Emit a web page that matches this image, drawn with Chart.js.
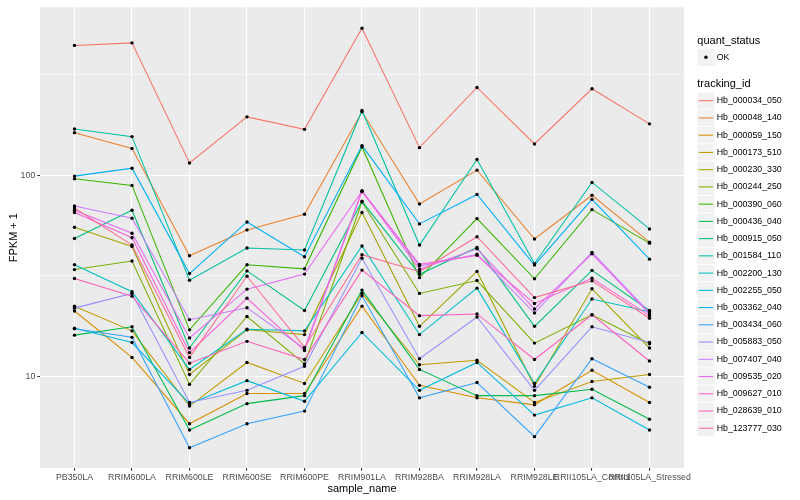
<!DOCTYPE html>
<html><head><meta charset="utf-8">
<script src="https://cdn.jsdelivr.net/npm/chart.js@4/dist/chart.umd.min.js"></script>
<style>html,body{margin:0;padding:0;background:#fff}</style>
</head><body>
<canvas id="c" width="800" height="500" style="width:800px;height:500px;display:block"></canvas>
<script>
const categories = ['PB350LA','RRIM600LA','RRIM600LE','RRIM600SE','RRIM600PE','RRIM901LA','RRIM928BA','RRIM928LA','RRIM928LE','RRII105LA_Control','RRII105LA_Stressed'];
const trackingIds = ['Hb_000034_050','Hb_000048_140','Hb_000059_150','Hb_000173_510','Hb_000230_330','Hb_000244_250','Hb_000390_060','Hb_000436_040','Hb_000915_050','Hb_001584_110','Hb_002200_130','Hb_002255_050','Hb_003362_040','Hb_003434_060','Hb_005883_050','Hb_007407_040','Hb_009535_020','Hb_009627_010','Hb_028639_010','Hb_123777_030'];
const seriesColors = ['#F8766D','#EA8331','#D89000','#C09B00','#A3A500','#7CAE00','#39B600','#00BB4E','#00BF7D','#00C1A3','#00BFC4','#00BAE0','#00B0F6','#35A2FF','#9590FF','#C77CFF','#E76BF3','#FA62DB','#FF62BC','#FF6C91'];

const s000034_050 = [442, 455, 115, 195, 169, 538, 137, 273, 143, 269, 180];
const s000048_140 = [162.7, 135.6, 39.7, 53.4, 63.9, 206.7, 71.8, 105.9, 48.1, 79.4, 46.4];
const s000059_150 = [21.1, 12.4, 5.8, 8.2, 8.2, 22.3, 9.0, 7.8, 7.2, 10.7, 7.4];
const s000173_510 = [22.3, 16.8, 7.1, 11.7, 9.2, 25.8, 11.4, 12.0, 7.4, 9.4, 10.2];
const s000230_330 = [55.1, 44.2, 10.2, 17.0, 16.1, 65.2, 17.7, 33.2, 8.9, 27.2, 13.8];
const s000244_250 = [33.9, 37.4, 9.1, 19.8, 11.5, 73.5, 25.8, 29.9, 14.6, 20.2, 14.5];
const s000390_060 = [96.0, 88.9, 17.0, 35.8, 34.2, 138.2, 30.9, 60.8, 30.5, 67.4, 45.9];
const s000436_040 = [16.0, 17.6, 5.4, 7.3, 8.0, 26.8, 10.8, 8.0, 8.0, 8.6, 6.1];
const s000915_050 = [48.4, 66.9, 13.8, 33.4, 21.2, 74.1, 32.1, 43.7, 17.7, 33.6, 21.2];
const s001584_110 = [169.8, 155.5, 30.0, 43.4, 42.4, 209.8, 44.9, 119.6, 36.3, 92.0, 54.0];
const s002200_130 = [35.8, 26.3, 10.8, 17.1, 16.8, 44.4, 16.1, 27.4, 9.2, 24.2, 20.9];
const s002255_050 = [17.3, 14.7, 7.3, 9.5, 7.5, 16.5, 8.5, 11.7, 6.4, 7.8, 5.4];
const s003362_040 = [98.9, 108.3, 32.4, 58.5, 39.3, 140.3, 57.2, 80.2, 35.7, 75.8, 38.2];
const s003434_060 = [17.2, 15.6, 4.4, 5.8, 6.7, 25.1, 7.8, 9.3, 5.0, 12.2, 8.8];
const s005883_050 = [21.8, 25.8, 7.4, 8.5, 11.2, 38.6, 12.2, 19.7, 8.5, 17.6, 14.7];
const s007407_040 = [70.2, 61.0, 19.1, 21.9, 13.7, 83.7, 35.3, 40.4, 20.6, 41.3, 20.7];
const s009535_020 = [66.9, 51.4, 15.5, 27.1, 32.2, 83.2, 34.0, 43.0, 21.6, 40.6, 20.4];
const s009627_010 = [65.2, 48.8, 13.1, 24.4, 13.4, 82.8, 36.0, 39.9, 23.0, 30.7, 20.0];
const s028639_010 = [30.6, 25.0, 11.6, 14.9, 12.1, 33.7, 20.0, 20.4, 12.1, 20.2, 11.9];
const s123777_030 = [68.6, 44.9, 12.4, 31.4, 13.9, 40.2, 33.1, 49.4, 24.6, 29.8, 19.4];

const yTickValues = [10, 100];
const yTickLabels = ['10', '100'];
const yMinorBreaks = [3.1623, 31.623, 316.23];

const seriesValues = [s000034_050, s000048_140, s000059_150, s000173_510, s000230_330, s000244_250, s000390_060, s000436_040, s000915_050, s001584_110, s002200_130, s002255_050, s003362_040, s003434_060, s005883_050, s007407_040, s009535_020, s009627_010, s028639_010, s123777_030];

const FONT = '"Liberation Sans", Arial, Helvetica, sans-serif';

const lineSets = seriesValues.map((vals, i) => ({
  label: trackingIds[i],
  data: vals.map((v, j) => ({x: j, y: v})),
  borderColor: seriesColors[i],
  borderWidth: 1.07,
  pointRadius: 0,
  tension: 0,
  fill: false,
  order: 100 - i
}));
const pointSet = {
  label: 'OK',
  data: seriesValues.flatMap(vals => vals.map((v, j) => ({x: j, y: v}))),
  showLine: false,
  pointRadius: 1.7,
  pointBackgroundColor: '#000',
  pointBorderWidth: 0,
  borderColor: '#000',
  order: 0
};

const decor = {
  id: 'decor',
  beforeDraw(chart) {
    const {ctx, chartArea: a} = chart;
    ctx.save();
    ctx.fillStyle = '#FFFFFF';
    ctx.fillRect(0, 0, chart.width, chart.height);
    ctx.fillStyle = '#EBEBEB';
    ctx.fillRect(a.left, a.top, a.right - a.left, a.bottom - a.top);
    ctx.restore();
  },
  afterDraw(chart) {
    const {ctx, chartArea: a} = chart;
    ctx.save();
    ctx.fillStyle = '#000';
    ctx.textBaseline = 'middle';
    ctx.textAlign = 'center';
    ctx.font = '11px ' + FONT;
    ctx.fillText('sample_name', (a.left + a.right) / 2, 489);
    ctx.save();
    ctx.translate(14, (a.top + a.bottom) / 2);
    ctx.rotate(-Math.PI / 2);
    ctx.fillText('FPKM + 1', 0, 0);
    ctx.restore();
    // legend
    const lx = 697.3, key = 17.28;
    ctx.textAlign = 'left';
    ctx.font = '11px ' + FONT;
    ctx.fillText('quant_status', lx, 40.7);
    ctx.fillStyle = '#F2F2F2';
    ctx.fillRect(lx, 57.3 - key / 2, key, key);
    ctx.fillStyle = '#000';
    ctx.beginPath();
    ctx.arc(lx + key / 2, 57.3, 1.7, 0, Math.PI * 2);
    ctx.fill();
    ctx.font = '8.8px ' + FONT;
    ctx.fillText('OK', 716.7, 57.3);
    ctx.font = '11px ' + FONT;
    ctx.fillText('tracking_id', lx, 84.3);
    trackingIds.forEach((id, i) => {
      const y = 100.7 + 17.24 * i;
      ctx.fillStyle = '#F2F2F2';
      ctx.fillRect(lx, y - key / 2 + 0.5, key, key - 1);
      ctx.strokeStyle = seriesColors[i];
      ctx.lineWidth = 1.07;
      ctx.beginPath();
      ctx.moveTo(lx + 1.5, y);
      ctx.lineTo(lx + key - 1.5, y);
      ctx.stroke();
      ctx.fillStyle = '#000';
      ctx.font = '8.8px ' + FONT;
      ctx.fillText(id, 716.7, y);
    });
    ctx.restore();
  }
};

new Chart(document.getElementById('c'), {
  type: 'line',
  data: { datasets: [pointSet, ...lineSets] },
  options: {
    responsive: false,
    animation: false,
    events: [],
    layout: { padding: { top: 5, right: 116, left: 0, bottom: 0 } },
    plugins: { legend: { display: false }, tooltip: { enabled: false } },
    scales: {
      x: {
        type: 'linear',
        min: -0.6,
        max: categories.length - 1 + 0.6,
        afterBuildTicks: s => { s.ticks = categories.map((_, i) => ({ value: i })); },
        afterFit: s => { s.height = 32; },
        ticks: {
          autoSkip: false, maxRotation: 0, minRotation: 0,
          padding: 1.5,
          color: '#4D4D4D',
          font: { family: FONT, size: 8.8 },
          callback: v => categories[v]
        },
        grid: { color: '#FFFFFF', lineWidth: 1.07, tickColor: '#333333', tickLength: 2.7, tickWidth: 1.07 },
        border: { display: false }
      },
      y: {
        type: 'logarithmic',
        min: 3.492,
        max: 684.2,
        afterBuildTicks: s => {
          s.ticks = [...yMinorBreaks, ...yTickValues].sort((p, q) => p - q).map(v => ({ value: v }));
        },
        afterFit: s => { s.width = 40; },
        ticks: {
          autoSkip: false,
          padding: 2,
          color: '#4D4D4D',
          font: { family: FONT, size: 8.8 },
          callback: v => { const k = yTickValues.indexOf(v); return k >= 0 ? yTickLabels[k] : ''; }
        },
        grid: {
          color: '#FFFFFF',
          lineWidth: c => (c.tick && yTickValues.includes(c.tick.value)) ? 1.07 : 0.53,
          tickColor: c => (c.tick && yTickValues.includes(c.tick.value)) ? '#333333' : 'rgba(0,0,0,0)',
          tickLength: 2.7,
          tickWidth: 1.07
        },
        border: { display: false }
      }
    }
  },
  plugins: [decor]
});
</script>
</body></html>
